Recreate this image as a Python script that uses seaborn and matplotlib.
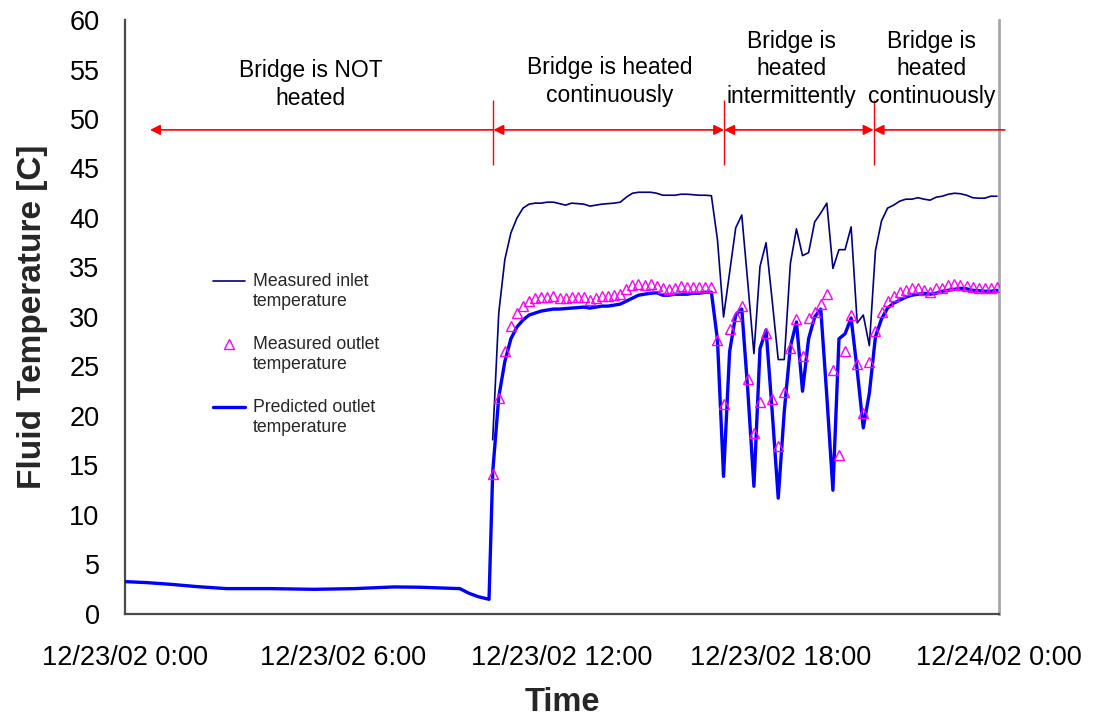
import numpy as np
import pandas as pd
import matplotlib
matplotlib.use("Agg")
import matplotlib.pyplot as plt
import seaborn as sns

# ---- data -------------------------------------------------------------
day_start = "2002-12-23 00:00"
series_start = "2002-12-23 10:06"   # 10-minute records from here to midnight

inlet_measured = [
    17.6, 30.4, 35.8, 38.5, 40.0, 41.0, 41.4, 41.5, 41.5, 41.6,
    41.6, 41.45, 41.3, 41.5, 41.45, 41.4, 41.2, 41.3, 41.4, 41.45,
    41.5, 41.6, 42.1, 42.5, 42.6, 42.6, 42.6, 42.5, 42.3, 42.3,
    42.3, 42.4, 42.4, 42.35, 42.3, 42.3, 42.25, 37.8, 30.0, 34.5,
    39.0, 40.3, 33.4, 26.3, 35.1, 37.5, 31.7, 25.7, 25.7, 35.4,
    38.9, 36.2, 36.5, 39.6, 40.5, 41.5, 34.9, 36.8, 36.8, 39.1,
    29.4, 30.2, 27.1, 36.7, 39.7, 41.0, 41.3, 41.7, 41.9, 41.9,
    42.05, 41.9, 41.8, 42.1, 42.2, 42.4, 42.5, 42.45, 42.3, 42.05,
    42.0, 42.0, 42.2, 42.2,
]

outlet_measured = [
    14.1, 21.8, 26.6, 29.1, 30.4, 31.1, 31.6, 31.9, 32.0, 32.0,
    32.1, 31.9, 31.9, 32.0, 32.0, 32.0, 31.7, 31.9, 32.1, 32.1,
    32.2, 32.3, 32.8, 33.2, 33.3, 33.2, 33.3, 33.1, 32.9, 32.8,
    32.9, 33.1, 33.0, 33.0, 33.0, 33.0, 33.0, 27.7, 21.2, 28.8,
    30.1, 31.1, 23.7, 18.3, 21.4, 28.4, 21.7, 17.0, 22.4, 26.9,
    29.8, 26.1, 29.9, 30.5, 31.3, 32.3, 24.6, 16.1, 26.6, 30.2,
    25.3, 20.3, 25.5, 28.6, 30.5, 31.6, 32.1, 32.5, 32.7, 32.9,
    32.9, 32.7, 32.5, 32.9, 32.9, 33.2, 33.3, 33.2, 33.1, 33.0,
    32.9, 32.9, 32.9, 33.0,
]

outlet_predicted = [
    14.3, 21.9, 25.5, 27.8, 29.0, 29.7, 30.2, 30.4, 30.6, 30.7,
    30.8, 30.8, 30.85, 30.9, 30.95, 31.0, 30.9, 31.0, 31.1, 31.1,
    31.2, 31.3, 31.6, 31.9, 32.2, 32.3, 32.4, 32.45, 32.2, 32.2,
    32.3, 32.3, 32.3, 32.4, 32.4, 32.5, 32.5, 27.7, 13.9, 26.5,
    30.2, 30.8, 22.5, 12.9, 26.8, 28.7, 20.5, 11.7, 20.5, 27.0,
    29.5, 22.5, 27.8, 30.0, 30.8, 22.0, 12.5, 27.8, 28.3, 29.9,
    24.6, 18.8, 22.3, 28.0, 29.8, 30.9, 31.4, 31.7, 32.0, 32.2,
    32.3, 32.4, 32.3, 32.4, 32.6, 32.7, 32.8, 32.9, 32.85, 32.7,
    32.65, 32.6, 32.6, 32.7,
]

# prediction before the heating starts (hours after midnight, deg C)
pred_early_hours = [0.0, 0.6, 1.25, 2.0, 2.8, 4.0, 5.2, 6.3, 7.4, 8.1, 9.2, 9.45, 9.7, 10.0]
pred_early_temp = [3.27, 3.17, 3.0, 2.76, 2.56, 2.56, 2.49, 2.56, 2.73, 2.7, 2.56, 2.09, 1.75, 1.48]

x_tick_hours = [0, 6, 12, 18, 24]
x_tick_labels = ["12/23/02 0:00", "12/23/02 6:00", "12/23/02 12:00",
                 "12/23/02 18:00", "12/24/02 0:00"]

# operating periods: boundaries in hours and their captions
period_bounds = [0.7, 10.12, 16.45, 20.55, 24.15]
period_labels = ["Bridge is NOT\nheated", "Bridge is heated\ncontinuously",
                 "Bridge is\nheated\nintermittently", "Bridge is\nheated\ncontinuously"]
period_label_pos = [(5.1, 53.5), (13.3, 53.8), (18.3, 55.1), (22.15, 55.1)]

# ---- frames -------------------------------------------------------------
t0 = pd.Timestamp(day_start)
stamps = pd.date_range(series_start, periods=len(inlet_measured), freq="10min")
hours = ((stamps - t0) / pd.Timedelta(hours=1)).to_numpy()

measured = pd.DataFrame({"hours": hours, "inlet": inlet_measured,
                         "outlet": outlet_measured})
predicted = pd.concat([
    pd.DataFrame({"hours": pred_early_hours, "temp": pred_early_temp}),
    pd.DataFrame({"hours": hours, "temp": outlet_predicted}),
], ignore_index=True)

# ---- figure -------------------------------------------------------------
sns.set_theme(style="white")
plt.rcParams["font.family"] = ["Liberation Sans", "DejaVu Sans"]

fig = plt.figure(figsize=(10.97, 7.17), dpi=100)
ax = fig.add_axes([0.1135, 0.1437, 0.7975, 0.8284])

sns.lineplot(data=predicted, x="hours", y="temp", color="#0000FF", lw=2.4,
             ax=ax, label="Predicted outlet\ntemperature", zorder=3)
sns.lineplot(data=measured, x="hours", y="inlet", color="#000080", lw=1.2,
             ax=ax, label="Measured inlet\ntemperature", zorder=4)
sns.lineplot(data=measured, x="hours", y="outlet", color="#FF00FF",
             linestyle="", marker="^", markersize=6.5, markerfacecolor="none",
             markeredgecolor="#FF00FF", markeredgewidth=1.0,
             ax=ax, label="Measured outlet\ntemperature", zorder=5)

ax.set_xlim(0, 24)
ax.set_ylim(0, 60)
ax.set_xticks(x_tick_hours)
ax.set_xticklabels(x_tick_labels)
ax.set_yticks(range(0, 61, 5))

ax.tick_params(axis="both", direction="out", length=8, width=1.2,
               color="#404040", labelsize=19.5, labelcolor="black")
ax.tick_params(axis="y", pad=10)
ax.tick_params(axis="x", pad=14)

for side in ("left", "bottom"):
    ax.spines[side].set_color("#4a4a4a")
    ax.spines[side].set_linewidth(1.6)
ax.spines["top"].set_visible(False)
ax.spines["right"].set_color("#a8a8a8")
ax.spines["right"].set_linewidth(2.0)

ax.set_xlabel("Time", fontsize=23.5, fontweight="bold")
ax.set_ylabel("Fluid Temperature [C]", fontsize=24, fontweight="bold")
ax.xaxis.set_label_coords(0.5, -0.123)
ax.yaxis.set_label_coords(-0.088, 0.5)

# period markers
arrow_y = 48.9
head = "head_length=0.6,head_width=0.3"
segments = [
    (period_bounds[1], period_bounds[0], "-|>"),
    (period_bounds[1], period_bounds[2], "<|-|>"),
    (period_bounds[2], period_bounds[3], "<|-|>"),
    (period_bounds[4], period_bounds[3], "-|>"),
]
for x_from, x_to, style in segments:
    ax.annotate("", xy=(x_to, arrow_y), xytext=(x_from, arrow_y),
                annotation_clip=False,
                arrowprops=dict(arrowstyle=f"{style},{head}", color="#FF0000",
                                lw=1.2, mutation_scale=10,
                                shrinkA=0, shrinkB=0))
ax.vlines(period_bounds[1:4], 45.4, 51.9, color="#FF0000", lw=1.0)

for text, (tx, ty) in zip(period_labels, period_label_pos):
    ax.text(tx, ty, text, ha="center", va="center", fontsize=16.5,
            color="black", linespacing=1.25)

# legend in inlet / outlet / predicted order, symbols level with first line
handles, labels = ax.get_legend_handles_labels()
order = [labels.index(l) for l in ("Measured inlet\ntemperature",
                                   "Measured outlet\ntemperature",
                                   "Predicted outlet\ntemperature")]
leg = ax.legend([handles[i] for i in order], [labels[i] for i in order],
                loc="upper left", bbox_to_anchor=(213 / 1097, 1 - 273 / 717),
                bbox_transform=fig.transFigure, frameon=False, fontsize=12.7,
                handlelength=1.8, handletextpad=0.45, labelspacing=1.5,
                borderpad=0, borderaxespad=0)
for h in leg.legend_handles:
    h.set_ydata(np.asarray(h.get_ydata(), dtype=float) + 7.6)

fig.savefig("out.png", dpi=100)
